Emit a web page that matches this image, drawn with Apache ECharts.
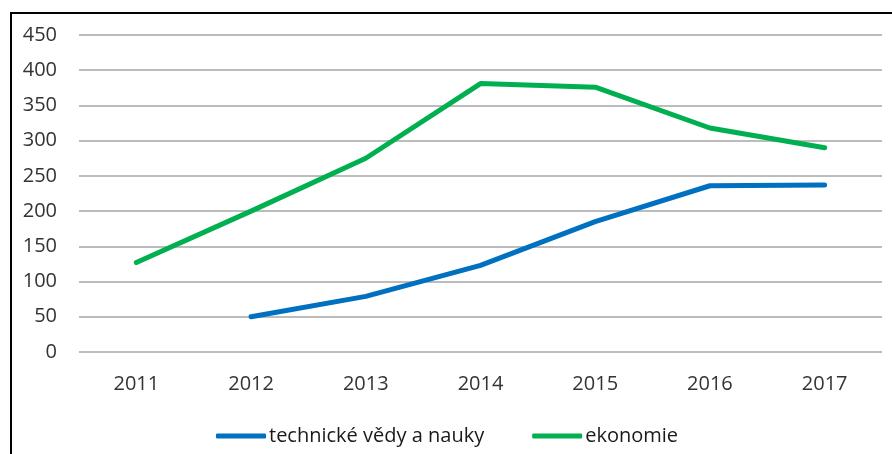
<!DOCTYPE html>
<html>
<head>
<meta charset="utf-8">
<script src="https://cdn.jsdelivr.net/npm/echarts@6/dist/echarts.min.js"></script>
<style>
html, body { margin: 0; padding: 0; background: #fff; }
#chart { width: 892px; height: 454px; }
</style>
</head>
<body>
<div id="chart"></div>
<script>
var years = ['2011', '2012', '2013', '2014', '2015', '2016', '2017'];
var technicke = [null, 50, 79, 123, 185, 236, 237];
var ekonomie = [127, 200, 275, 381, 376, 318, 290];
var seriesNames = ['technické vědy a nauky', 'ekonomie'];
var seriesColors = ['#0070C0', '#00B050'];

var chart = echarts.init(document.getElementById('chart'));
var font = 'Open Sans';

function lineSeries(name, data, color) {
	return {
		name : name,
		type : 'line',
		data : data,
		symbol : 'none',
		connectNulls : false,
		lineStyle : {
			color : color,
			width : 5,
			cap : 'round',
			join : 'round'
		},
		itemStyle : {
			color : color
		}
	};
}

var option = {
	animation : false,
	graphic : [ {
		type : 'rect',
		shape : { x : 11, y : 13, width : 900, height : 500 },
		style : { fill : 'none', stroke : '#000', lineWidth : 2 },
		silent : true
	} ],
	grid : {
		left : 79,
		right : 10,
		top : 35,
		bottom : 102
	},
	legend : {
		bottom : 3,
		left : 211,
		icon : 'roundRect',
		itemWidth : 50,
		itemHeight : 5,
		itemGap : 48,
		textStyle : {
			fontFamily : font,
			fontSize : 20,
			color : '#1a1a1a',
			padding : [0, 0, 0, -2]
		},
		data : seriesNames
	},
	xAxis : {
		type : 'category',
		data : years,
		boundaryGap : true,
		axisLine : { show : false },
		axisTick : { show : false },
		axisLabel : {
			fontFamily : font,
			fontSize : 20,
			color : '#333',
			margin : 22
		}
	},
	yAxis : {
		type : 'value',
		min : 0,
		max : 450,
		interval : 50,
		axisLine : { show : false },
		axisTick : { show : false },
		axisLabel : {
			fontFamily : font,
			fontSize : 20,
			color : '#333',
			margin : 22
		},
		splitLine : {
			lineStyle : { color : '#a6a6a6', width : 1.5 }
		}
	},
	series : [
		lineSeries(seriesNames[0], technicke, seriesColors[0]),
		lineSeries(seriesNames[1], ekonomie, seriesColors[1])
	]
};
chart.setOption(option);
</script>
</body>
</html>
